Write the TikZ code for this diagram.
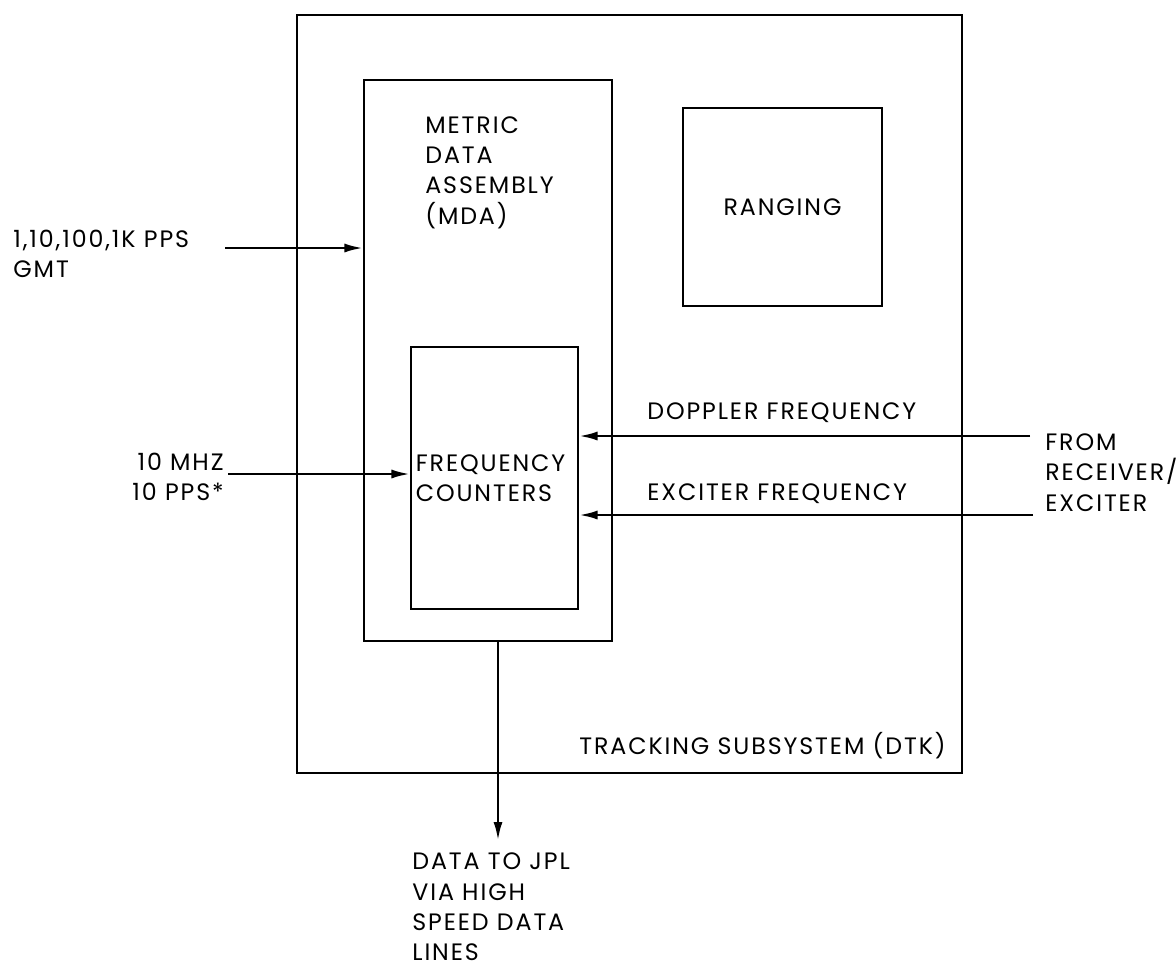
\documentclass[tikz,border=0pt]{standalone}
\usepackage{fontspec}
\setmainfont{Poppins}[LetterSpace=8]
\usetikzlibrary{arrows.meta, positioning}

\begin{document}
\begin{tikzpicture}[
    every node/.style={font=\fontsize{13.5}{17.2}\selectfont, inner sep=0pt},
    outerbox/.style={draw, line width=1.5pt, minimum width=13.3cm, minimum height=15.16cm},
    box/.style={draw, line width=0.6pt},
    label/.style={align=left},
    arrow/.style={-{Latex[length=0.38cm, width=0.18cm]}, line width=1.6pt}
]
    \useasboundingbox (0,0) rectangle (23.52,-19.36);

    % boxes
    \node (dtk) [outerbox] at (12.59,-7.88) {};
    \node (mda) [box, minimum width=4.96cm, minimum height=11.22cm] at (9.76,-7.21) {};
    \node (rng) [box, minimum width=3.98cm, minimum height=3.96cm] at (15.65,-4.14) {RANGING};
    \node (fc) [box, minimum width=3.34cm, minimum height=5.24cm] at (9.89,-9.56) {};

    % labels
    \node (mdalabel) [label, anchor=west] at (8.5,-3.45) {METRIC\\DATA\\ASSEMBLY\\(MDA)};
    \node (fclabel) [label, anchor=west, right=0.1cm of fc.west] {FREQUENCY\\COUNTERS};
    \node (dtklabel) [anchor=east] at (18.92,-14.92) {TRACKING SUBSYSTEM (DTK)};
    \node (pps) [label, anchor=west] at (0.26,-5.07) {1,10,100,1K PPS\\GMT};
    \node (mhz) [align=right, anchor=east] at (4.48,-9.53) {10 MHZ\\10 PPS*};
    \node (dop) [anchor=west] at (12.94,-8.26) {DOPPLER FREQUENCY};
    \node (exc) [anchor=west] at (12.94,-9.88) {EXCITER FREQUENCY};
    \node (rcv) [label, anchor=west] at (20.9,-9.45) {FROM\\RECEIVER/\\EXCITER};
    \node (jpl) [label, anchor=west] at (8.24,-18.14) {DATA TO JPL\\VIA HIGH\\SPEED DATA\\LINES};

    % free ends
    \coordinate (ppsin) at (4.5,-4.96);
    \coordinate (mhzin) at (4.56,-9.48);
    \coordinate (dopin) at (20.6,-8.72);
    \coordinate (excin) at (20.66,-10.3);
    \coordinate (dataout) at (9.96,-16.82);

    \draw [arrow] (ppsin) -- (mda.west |- ppsin);
    \draw [arrow] (mhzin) -- (fc.west |- mhzin);
    \draw [arrow] (dopin) -- (fc.east |- dopin);
    \draw [arrow] (excin) -- (fc.east |- excin);
    \draw [arrow] (mda.south -| dataout) -- (dataout);
\end{tikzpicture}
\end{document}
